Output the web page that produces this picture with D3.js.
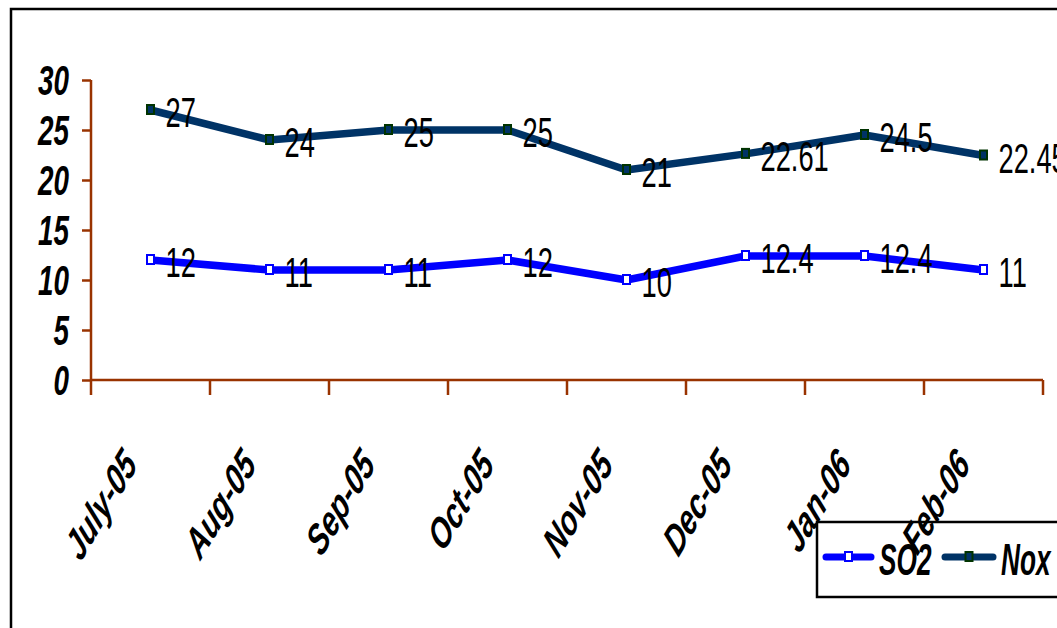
<!DOCTYPE html>
<html>
<head>
<meta charset="utf-8">
<script src="https://cdn.jsdelivr.net/npm/d3@7"></script>
<style>
  html, body { margin: 0; padding: 0; background: #fff; }
  svg { display: block; }
  text { font-family: "Liberation Sans", Arial, sans-serif; }
</style>
</head>
<body>
<svg id="chart" width="1057" height="628"></svg>
<script>
const categories = ["July-05", "Aug-05", "Sep-05", "Oct-05", "Nov-05", "Dec-05", "Jan-06", "Feb-06"];
const so2 = [12, 11, 11, 12, 10, 12.4, 12.4, 11];
const nox = [27, 24, 25, 25, 21, 22.61, 24.5, 22.45];
const yTicks = [0, 5, 10, 15, 20, 25, 30];
const seriesNames = ["SO2", "Nox"];

const svg = d3.select("#chart");
const axisColor = "#993300";
const colors = { SO2: "#0000FF", Nox: "#003366" };
const markerStroke = { SO2: "#0000FF", Nox: "#003300" };
const markerFill = { SO2: "#FFFFFF", Nox: "#003366" };

// outer chart border
svg.append("rect").attr("x", 11).attr("y", 9).attr("width", 1100).attr("height", 700)
  .attr("fill", "none").attr("stroke", "#000").attr("stroke-width", 2.5);

const x = d3.scaleBand().domain(categories).range([91, 1043]);
const y = d3.scaleLinear().domain([0, 30]).range([380, 80]);

// Y axis
const yAxis = svg.append("g").attr("transform", "translate(91,0)")
  .call(d3.axisLeft(y).tickValues(yTicks).tickSize(9).tickFormat(""));
yAxis.select(".domain").attr("stroke", axisColor).attr("stroke-width", 2.5).attr("d", "M0,80V380");
yAxis.selectAll(".tick line").attr("stroke", axisColor).attr("stroke-width", 2.5);

svg.append("g").selectAll("text").data(yTicks).join("text")
  .attr("transform", d => `translate(69,${y(d) + 15}) scale(0.82,1.23)`)
  .attr("text-anchor", "end")
  .attr("font-size", 34).attr("font-weight", "bold").attr("font-style", "italic")
  .attr("fill", "#000")
  .text(d => d);

// X axis
const xTickPos = categories.map(c => x(c)).concat([x.range()[1]]);
const xAxisG = svg.append("g").attr("transform", `translate(0,${y(0)})`);
xAxisG.append("line").attr("x1", 91).attr("x2", 1043).attr("y1", 0).attr("y2", 0)
  .attr("stroke", axisColor).attr("stroke-width", 2.5);
xAxisG.selectAll("line.tk").data(xTickPos).join("line").attr("class", "tk")
  .attr("x1", d => d).attr("x2", d => d).attr("y1", 0).attr("y2", 15)
  .attr("stroke", axisColor).attr("stroke-width", 2.5);

const cx = c => x(c) + x.bandwidth() / 2;
const series = [
  { name: "SO2", values: so2 },
  { name: "Nox", values: nox }
];

const line = d3.line().x((d, i) => cx(categories[i])).y(d => y(d));

series.forEach(s => {
  svg.append("path").datum(s.values)
    .attr("d", line).attr("fill", "none")
    .attr("stroke", colors[s.name]).attr("stroke-width", 7.5)
    .attr("stroke-linejoin", "round");
});

series.forEach(s => {
  svg.append("g").selectAll("rect").data(s.values).join("rect")
    .attr("x", (d, i) => cx(categories[i]) - 3.5)
    .attr("y", d => y(d) - 5)
    .attr("width", 7).attr("height", 9)
    .attr("fill", markerFill[s.name]).attr("stroke", markerStroke[s.name]).attr("stroke-width", 2);
});

series.forEach(s => {
  svg.append("g").selectAll("text").data(s.values).join("text")
    .attr("transform", (d, i) => `translate(${cx(categories[i]) + 15},${y(d) + 17}) scale(0.88,1.4)`)
    .attr("font-size", 31).attr("fill", "#000")
    .text(d => d);
});

// Legend
const lg = svg.append("g");
lg.append("rect").attr("x", 817).attr("y", 522).attr("width", 300).attr("height", 75)
  .attr("fill", "#fff").attr("stroke", "#000").attr("stroke-width", 2.5);
const legendItems = [
  { name: "SO2", x1: 826, x2: 871, tx: 879 },
  { name: "Nox", x1: 945, x2: 993, tx: 1001 }
];
legendItems.forEach(it => {
  lg.append("line").attr("x1", it.x1).attr("x2", it.x2).attr("y1", 557).attr("y2", 557)
    .attr("stroke", colors[it.name]).attr("stroke-width", 7).attr("stroke-linecap", "round");
  lg.append("rect").attr("x", (it.x1 + it.x2) / 2 - 3.5).attr("y", 552).attr("width", 7).attr("height", 9)
    .attr("fill", markerFill[it.name]).attr("stroke", markerStroke[it.name]).attr("stroke-width", 2);
  lg.append("text").attr("transform", `translate(${it.tx},575) scale(0.82,1.4)`)
    .attr("font-size", 32).attr("font-weight", "bold").attr("font-style", "italic").attr("fill", "#000")
    .text(it.name);
});

// category labels (drawn above the legend, as in the reference)
svg.append("g").selectAll("text").data(categories).join("text")
  .attr("transform", d => `translate(${cx(d) - 12},466) scale(1,1.4) rotate(-50) scale(0.82,1)`)
  .attr("text-anchor", "end")
  .attr("font-size", 32).attr("font-weight", "bold").attr("font-style", "italic")
  .attr("fill", "#000")
  .text(d => d);
</script>
</body>
</html>
